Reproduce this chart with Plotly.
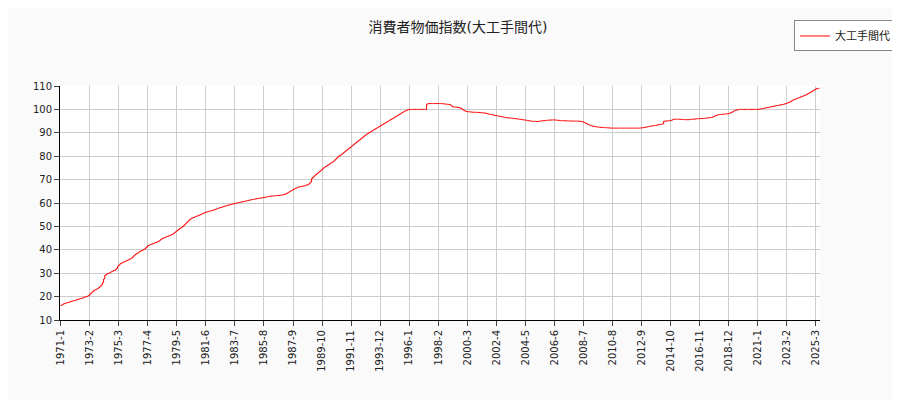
import plotly.graph_objects as go

start_year = 1971
# monthly index values, one row per year (Jan..Dec)
v1971 = [16.2,16.5,16.8,17.0,17.2,17.3,17.5,17.6,17.8,18.0,18.1,18.2]
v1972 = [18.3,18.5,18.7,18.9,19.0,19.2,19.3,19.5,19.7,19.9,20.0,20.2]
v1973 = [20.5,21.0,21.5,22.0,22.5,22.8,23.0,23.3,23.6,24.0,24.5,25.0]
v1974 = [26.0,27.5,29.0,29.5,29.8,30.0,30.2,30.5,30.8,31.0,31.2,31.5]
v1975 = [32.0,33.0,33.5,34.0,34.3,34.5,34.8,35.0,35.2,35.5,35.7,36.0]
v1976 = [36.2,36.5,37.0,37.5,38.0,38.3,38.6,39.0,39.3,39.6,39.8,40.0]
v1977 = [40.3,40.8,41.3,41.8,42.0,42.2,42.4,42.6,42.8,43.0,43.2,43.4]
v1978 = [43.6,44.0,44.4,44.8,45.0,45.2,45.4,45.6,45.8,46.0,46.2,46.4]
v1979 = [46.6,47.0,47.4,47.8,48.2,48.6,49.0,49.3,49.6,50.0,50.5,51.0]
v1980 = [51.5,52.0,52.5,53.0,53.3,53.6,53.8,54.0,54.2,54.4,54.6,54.8]
v1981 = [55.0,55.2,55.5,55.7,56.0,56.1,56.2,56.4,56.5,56.6,56.8,57.0]
v1982 = [57.1,57.3,57.5,57.7,57.9,58.0,58.1,58.3,58.5,58.6,58.8,59.0]
v1983 = [59.1,59.2,59.3,59.5,59.6,59.7,59.8,60.0,60.1,60.2,60.3,60.4]
v1984 = [60.5,60.6,60.7,60.8,61.0,61.1,61.2,61.3,61.4,61.5,61.6,61.7]
v1985 = [61.8,61.9,62.0,62.0,62.1,62.2,62.3,62.4,62.5,62.6,62.7,62.8]
v1986 = [62.9,63.0,63.0,63.0,63.1,63.1,63.2,63.2,63.3,63.3,63.4,63.5]
v1987 = [63.6,63.8,64.0,64.3,64.6,64.9,65.2,65.5,65.8,66.0,66.3,66.5]
v1988 = [66.7,66.9,67.0,67.1,67.2,67.3,67.4,67.6,67.8,68.0,68.5,69.0]
v1989 = [70.5,71.0,71.5,72.0,72.4,72.8,73.2,73.6,74.0,74.5,75.0,75.3]
v1990 = [75.6,76.0,76.3,76.6,77.0,77.3,77.6,78.0,78.5,79.0,79.5,80.0]
v1991 = [80.3,80.6,81.0,81.4,81.8,82.2,82.6,83.0,83.4,83.8,84.2,84.6]
v1992 = [85.0,85.4,85.8,86.2,86.6,87.0,87.4,87.8,88.2,88.6,89.0,89.4]
v1993 = [89.7,90.0,90.3,90.6,90.9,91.2,91.5,91.8,92.1,92.4,92.7,93.0]
v1994 = [93.3,93.6,93.9,94.2,94.5,94.8,95.1,95.4,95.7,96.0,96.3,96.6]
v1995 = [96.9,97.2,97.5,97.8,98.1,98.4,98.7,99.0,99.3,99.5,99.7,99.9]
v1996 = [100.0,100.0,100.0,100.0,100.0,100.0,100.0,100.0,100.0,100.0,100.0,100.0]
v1997 = [100.0,100.0,100.0,102.3,102.4,102.5,102.5,102.5,102.5,102.5,102.5,102.5]
v1998 = [102.5,102.5,102.5,102.5,102.4,102.4,102.3,102.3,102.2,102.2,102.1,102.0]
v1999 = [101.5,101.2,101.0,101.0,101.0,100.9,100.8,100.7,100.5,100.2,99.8,99.5]
v2000 = [99.3,99.1,99.0,99.0,98.9,98.9,98.8,98.8,98.8,98.8,98.7,98.7]
v2001 = [98.7,98.6,98.6,98.5,98.5,98.4,98.3,98.2,98.0,97.9,97.8,97.7]
v2002 = [97.6,97.5,97.4,97.3,97.2,97.1,97.0,96.9,96.8,96.7,96.6,96.5]
v2003 = [96.4,96.4,96.3,96.3,96.2,96.2,96.1,96.0,96.0,95.9,95.8,95.8]
v2004 = [95.7,95.6,95.5,95.5,95.4,95.3,95.2,95.1,95.0,95.0,94.9,94.9]
v2005 = [94.9,94.8,94.8,94.9,95.0,95.0,95.1,95.2,95.2,95.3,95.3,95.4]
v2006 = [95.4,95.4,95.5,95.5,95.5,95.5,95.4,95.4,95.3,95.3,95.2,95.2]
v2007 = [95.2,95.2,95.1,95.1,95.1,95.1,95.1,95.0,95.0,95.0,95.0,95.0]
v2008 = [95.0,95.0,94.9,94.9,94.8,94.7,94.5,94.3,94.0,93.7,93.5,93.3]
v2009 = [93.1,92.9,92.8,92.7,92.6,92.5,92.5,92.4,92.4,92.3,92.3,92.2]
v2010 = [92.2,92.2,92.1,92.1,92.1,92.0,92.0,92.0,92.0,92.0,92.0,92.0]
v2011 = [92.0,92.0,92.0,92.0,92.0,92.0,92.0,92.0,92.0,92.0,92.0,92.0]
v2012 = [92.0,92.0,92.0,92.0,92.0,92.0,92.0,92.1,92.1,92.2,92.3,92.4]
v2013 = [92.5,92.6,92.7,92.8,92.9,93.0,93.0,93.1,93.2,93.3,93.4,93.5]
v2014 = [93.6,93.7,93.8,95.0,95.0,95.0,95.1,95.1,95.2,95.3,95.5,95.7]
v2015 = [95.8,95.8,95.8,95.8,95.8,95.8,95.7,95.7,95.7,95.6,95.6,95.6]
v2016 = [95.6,95.7,95.7,95.8,95.8,95.9,95.9,96.0,96.0,96.0,96.1,96.1]
v2017 = [96.1,96.2,96.2,96.3,96.3,96.4,96.4,96.5,96.6,96.8,97.0,97.3]
v2018 = [97.5,97.6,97.7,97.8,97.8,97.9,98.0,98.0,98.0,98.1,98.2,98.3]
v2019 = [98.5,98.7,99.0,99.3,99.5,99.7,99.8,99.9,100.0,100.0,100.0,100.0]
v2020 = [100.0,100.0,100.0,100.0,100.0,100.0,100.0,100.0,100.0,100.0,100.0,100.0]
v2021 = [100.0,100.1,100.2,100.3,100.4,100.5,100.6,100.7,100.8,100.9,101.0,101.1]
v2022 = [101.2,101.3,101.4,101.5,101.6,101.7,101.8,101.9,102.0,102.1,102.2,102.4]
v2023 = [102.5,102.7,102.9,103.1,103.4,103.7,104.0,104.2,104.4,104.6,104.8,105.0]
v2024 = [105.2,105.4,105.6,105.8,106.0,106.2,106.5,106.8,107.0,107.3,107.6,107.9]
v2025 = [108.2,108.5,108.8,109.0,109.0,109.0]

rows = [v1971,v1972,v1973,v1974,v1975,v1976,v1977,v1978,v1979,v1980,v1981,v1982,v1983,
        v1984,v1985,v1986,v1987,v1988,v1989,v1990,v1991,v1992,v1993,v1994,v1995,v1996,
        v1997,v1998,v1999,v2000,v2001,v2002,v2003,v2004,v2005,v2006,v2007,v2008,v2009,
        v2010,v2011,v2012,v2013,v2014,v2015,v2016,v2017,v2018,v2019,v2020,v2021,v2022,
        v2023,v2024,v2025]

months, values = [], []
for i, row in enumerate(rows):
    for m, v in enumerate(row):
        months.append(f"{start_year+i}-{m+1}")
        values.append(v)

tick_labels = months[::25]

fig = go.Figure(go.Scatter(x=months, y=values, mode="lines", name="大工手間代",
                           line=dict(color="red", width=1, shape="hv")))
fig.update_layout(
    width=900, height=400, paper_bgcolor="#fafafa", plot_bgcolor="white",
    margin=dict(l=52, r=68, t=72, b=88),
    title=dict(text="消費者物価指数(大工手間代)", x=0.5, y=0.965, xanchor="center",
               font=dict(size=14, color="#222")),
    font=dict(family="DejaVu Sans, Noto Sans CJK JP", size=10, color="#222"),
    showlegend=True,
    legend=dict(x=0.99, y=1.2, xanchor="left", yanchor="top", bgcolor="white",
                bordercolor="#888", borderwidth=1, font=dict(size=11),
                xref="paper"),
    xaxis=dict(type="category", tickmode="array", tickvals=tick_labels, ticktext=tick_labels,
               tickangle=-90, showgrid=True, gridcolor="#ccc", ticks="outside",
               showline=True, linecolor="black", range=[-0.5, len(months)-0.5]),
    yaxis=dict(range=[10, 110], dtick=10, showgrid=True, gridcolor="#ccc", ticks="outside",
               showline=True, linecolor="black"),
)
fig.update_layout(legend=dict(x=1.1, xanchor="right", y=1.28))
fig.write_html("out.html")
